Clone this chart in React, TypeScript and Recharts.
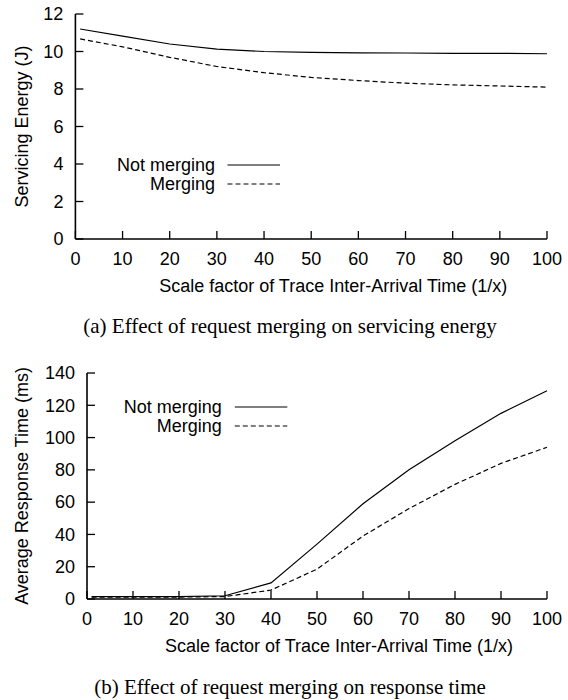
import React from 'react';
import { LineChart, Line, XAxis, YAxis, Legend, Label } from 'recharts';

const scaleFactors = [1, 10, 20, 30, 40, 50, 60, 70, 80, 90, 100];
const energyNotMerging = [11.2, 10.82, 10.4, 10.13, 10.0, 9.95, 9.93, 9.92, 9.9, 9.9, 9.88];
const energyMerging = [10.67, 10.25, 9.69, 9.2, 8.87, 8.62, 8.45, 8.31, 8.22, 8.16, 8.1];
const responseNotMerging = [1.5, 1.5, 1.5, 2, 10, 34, 59, 80, 98, 115, 129];
const responseMerging = [1.2, 1.2, 1.2, 1.5, 5.5, 18.5, 39, 56, 71, 84, 94];

const xTicks = [0, 10, 20, 30, 40, 50, 60, 70, 80, 90, 100];
const energyTicks = [0, 2, 4, 6, 8, 10, 12];
const responseTicks = [0, 20, 40, 60, 80, 100, 120, 140];
const seriesNames = ['Not merging', 'Merging'];
const seriesDash = ['', '5 3'];
const xTitle = 'Scale factor of Trace Inter-Arrival Time (1/x)';
const energyTitle = 'Servicing Energy (J)';
const responseTitle = 'Average Response Time (ms)';
const captionA = '(a) Effect of request merging on servicing energy';
const captionB = '(b) Effect of request merging on response time';

const FONT = '"Liberation Sans", Arial, Helvetica, sans-serif';
const SERIF = '"Liberation Serif", "Times New Roman", Times, serif';
const FS = 18;
const TICK_LEN = 8;
const XGAP = 13;
const YGAP = 12;
const BORDER = 1.6;

const BottomTick = (props: any) => {
  const { x, y, payload } = props;
  const axisY = y - XGAP;
  return (
    <g>
      <line x1={x} x2={x} y1={axisY} y2={axisY - TICK_LEN} stroke="#000" strokeWidth={1.3} />
      <text x={x} y={y} dy="0.71em" textAnchor="middle" fontFamily={FONT} fontSize={FS} fill="#000">
        {payload.value}
      </text>
    </g>
  );
};

const LeftTick = (props: any) => {
  const { x, y, payload } = props;
  const axisX = x + YGAP;
  return (
    <g>
      <line x1={axisX} x2={axisX + TICK_LEN} y1={y} y2={y} stroke="#000" strokeWidth={1.3} />
      <text x={x} y={y} dy="0.35em" textAnchor="end" fontFamily={FONT} fontSize={FS} fill="#000">
        {payload.value}
      </text>
    </g>
  );
};

const TopTick = (props: any) => {
  const { x, y } = props;
  return <line x1={x} x2={x} y1={y} y2={y + TICK_LEN} stroke="#000" strokeWidth={1.3} />;
};

const RightTick = (props: any) => {
  const { x, y } = props;
  return <line x1={x} x2={x - TICK_LEN} y1={y} y2={y} stroke="#000" strokeWidth={1.3} />;
};

type LegendPos = { textRight: number; lineX1: number; lineX2: number; y0: number; gap: number };

const makeLegend = (pos: LegendPos) => () => (
  <svg width={568} height={320} style={{ overflow: 'visible', position: 'absolute', left: 0, top: 0 }}>
    {seriesNames.map((name, i) => {
      const y = pos.y0 + i * pos.gap;
      return (
        <g key={name}>
          <text x={pos.textRight} y={y} dy="0.35em" textAnchor="end" fontFamily={FONT} fontSize={FS} fill="#000">
            {name}
          </text>
          <line
            x1={pos.lineX1}
            x2={pos.lineX2}
            y1={y}
            y2={y}
            stroke="#000"
            strokeWidth={1.2}
            strokeDasharray={seriesDash[i] || undefined}
          />
        </g>
      );
    })}
  </svg>
);

const xTitleContent = (props: any) => {
  const vb = props.viewBox;
  return (
    <text x={vb.x + vb.width / 2 + 22} y={vb.y + 47} dy="0.35em" textAnchor="middle" fontFamily={FONT} fontSize={FS} fill="#000">
      {xTitle}
    </text>
  );
};

const yTitleContent = (title: string, cx: number) => (props: any) => {
  const vb = props.viewBox;
  const cy = vb.y + vb.height / 2;
  return (
    <text
      x={cx}
      y={cy}
      dy="0.35em"
      textAnchor="middle"
      transform={`rotate(-90 ${cx} ${cy})`}
      fontFamily={FONT}
      fontSize={FS}
      fill="#000"
    >
      {title}
    </text>
  );
};

type PanelProps = {
  data: any[];
  ticks: number[];
  yMax: number;
  yTitle: string;
  yAxisWidth: number;
  marginTop: number;
  legend: LegendPos;
};

const Panel = ({ data, ticks, yMax, yTitle, yAxisWidth, marginTop, legend }: PanelProps) => (
  <LineChart width={568} height={310} data={data} margin={{ top: marginTop, right: 21, left: 0, bottom: 0 }}>
    <XAxis
      dataKey="x"
      type="number"
      domain={[0, 100]}
      ticks={xTicks}
      interval={0}
      height={310 - marginTop - 225 - (marginTop === 13 ? 1 : 0)}
      tickSize={0}
      tickMargin={XGAP}
      tick={<BottomTick />}
      axisLine={{ stroke: '#000', strokeWidth: BORDER }}
      tickLine={false}
    >
      <Label content={xTitleContent} />
    </XAxis>
    <XAxis
      xAxisId="top"
      orientation="top"
      type="number"
      domain={[0, 100]}
      ticks={xTicks}
      interval={0}
      height={0}
      tickSize={0}
      tickMargin={0}
      tick={<TopTick />}
      axisLine={{ stroke: '#000', strokeWidth: BORDER }}
      tickLine={false}
    />
    <YAxis
      type="number"
      domain={[0, yMax]}
      ticks={ticks}
      interval={0}
      width={yAxisWidth}
      tickSize={0}
      tickMargin={YGAP}
      tick={<LeftTick />}
      axisLine={{ stroke: '#000', strokeWidth: BORDER }}
      tickLine={false}
    >
      <Label content={yTitleContent(yTitle, 21.7)} />
    </YAxis>
    <YAxis
      yAxisId="right"
      orientation="right"
      type="number"
      domain={[0, yMax]}
      ticks={ticks}
      interval={0}
      width={0}
      tickSize={0}
      tickMargin={0}
      tick={<RightTick />}
      axisLine={{ stroke: '#000', strokeWidth: BORDER }}
      tickLine={false}
    />
    <Legend
      layout="vertical"
      align="center"
      verticalAlign="middle"
      wrapperStyle={{ left: 0, top: 0, width: 568, height: 0 }}
      content={makeLegend(legend)}
    />
    <Line
      dataKey="notMerging"
      name={seriesNames[0]}
      type="linear"
      stroke="#000"
      strokeWidth={1.2}
      dot={false}
      activeDot={false}
      isAnimationActive={false}
    />
    <Line
      dataKey="merging"
      name={seriesNames[1]}
      type="linear"
      stroke="#000"
      strokeWidth={1.2}
      strokeDasharray={seriesDash[1]}
      dot={false}
      activeDot={false}
      isAnimationActive={false}
    />
  </LineChart>
);

const energyData = scaleFactors.map((x, i) => ({ x, notMerging: energyNotMerging[i], merging: energyMerging[i] }));
const responseData = scaleFactors.map((x, i) => ({ x, notMerging: responseNotMerging[i], merging: responseMerging[i] }));

const captionStyle: React.CSSProperties = {
  position: 'absolute',
  left: 0,
  width: 580,
  textAlign: 'center',
  fontFamily: SERIF,
  fontSize: 21,
  lineHeight: '22px',
  color: '#000',
  whiteSpace: 'nowrap',
};

export default function App() {
  return (
    <div style={{ position: 'absolute', left: 0, top: 0, width: 568, height: 700, background: '#fff', overflow: 'hidden' }}>
      <div style={{ position: 'absolute', left: 0, top: 0 }}>
        <Panel
          data={energyData}
          ticks={energyTicks}
          yMax={12}
          yTitle={energyTitle}
          yAxisWidth={75.4}
          marginTop={14}
          legend={{ textRight: 215, lineX1: 227.5, lineX2: 280, y0: 165, gap: 19 }}
        />
      </div>
      <div style={{ ...captionStyle, top: 315 }}>{captionA}</div>
      <div style={{ position: 'absolute', left: 0, top: 360 }}>
        <Panel
          data={responseData}
          ticks={responseTicks}
          yMax={140}
          yTitle={responseTitle}
          yAxisWidth={87}
          marginTop={13}
          legend={{ textRight: 221.7, lineX1: 234.8, lineX2: 287.3, y0: 47, gap: 19 }}
        />
      </div>
      <div style={{ ...captionStyle, top: 676 }}>{captionB}</div>
    </div>
  );
}
